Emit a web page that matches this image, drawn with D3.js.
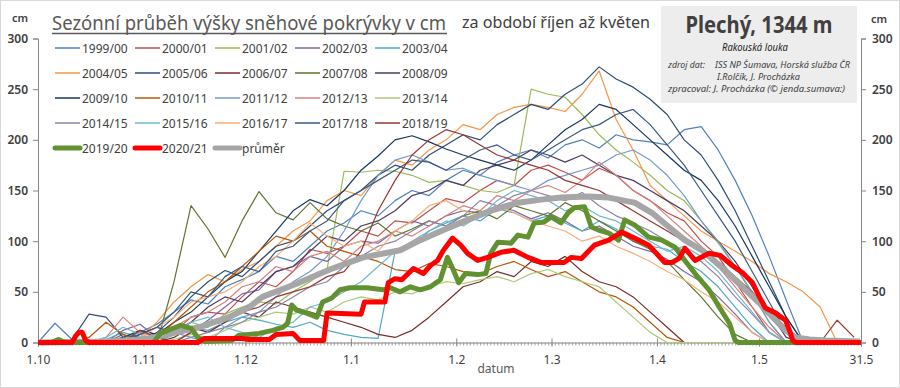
<!DOCTYPE html>
<html>
<head>
<meta charset="utf-8">
<script src="https://cdn.jsdelivr.net/npm/d3@7"></script>
<style>
  body { margin: 0; background: #fff; }
  text { font-family: "Noto Sans", "Open Sans", sans-serif; }
</style>
</head>
<body>
<script>
// snow depth in cm, one reading every 5 days from 1.10
const step = 5;
const seasons = ['1999/00','2000/01','2001/02','2002/03','2003/04','2004/05','2005/06','2006/07','2007/08','2008/09',
                 '2009/10','2010/11','2011/12','2012/13','2013/14','2014/15','2015/16','2016/17','2017/18','2018/19'];

const s9900 = [0,19,3,0,0,5,10,18,30,42, 38,55,62,70,85,80,95,110,118,130, 125,140,150,145,160,170,165,178,185,190, 182,195,200,192,205,200,198,195,210,213, 190,160,125,85,42,0,0,0,0];
const s0001 = [0,0,0,0,0,8,3,0,10,25, 30,28,45,60,55,70,92,88,95,110, 105,120,118,130,142,138,150,160,155,170, 175,168,160,172,165,150,140,128,120,100, 85,60,35,10,0,0,0,0,0];
const s0102 = [0,0,0,2,0,0,0,5,12,20, 15,28,35,40,38,50,60,72,169,168, 170,169,165,158,160,155,150,148,155,250, 245,242,225,205,190,178,165,150,140,120, 98,75,48,20,0,0,0,0,0];
const s0203 = [0,0,0,0,0,12,18,5,0,10, 22,35,48,52,70,75,85,80,95,100, 98,110,120,115,125,130,128,135,130,122, 128,120,110,115,105,95,90,82,70,60, 45,28,10,0,0,0,0,0,0];
const s0304 = [0,0,0,0,3,10,5,0,8,15, 12,20,25,22,18,15,20,12,8,5, 4,90,95,110,118,125,120,132,128,120, 125,118,110,120,112,100,95,92,80,70, 55,35,15,0,0,0,0,0,0];
const s0405 = [0,0,0,0,0,0,5,20,40,55, 67,60,72,80,95,110,120,140,150,145, 165,180,175,190,200,215,210,225,232,235, 232,228,245,268,220,190,155,140,125,110, 100,90,80,68,60,50,35,0,0];
const s0506 = [0,0,3,28,25,5,0,10,25,45, 60,71,65,80,95,100,115,130,140,150, 165,175,170,185,195,205,200,215,225,235, 230,245,255,272,260,252,240,225,200,185, 160,130,95,60,25,0,0,0,0];
const s0607 = [0,0,0,0,0,0,0,0,5,15, 10,20,30,25,40,35,30,25,20,15, 8,5,12,25,40,55,60,70,65,80, 75,85,70,60,55,45,30,15,0,0, 0,0,0,0,0,0,0,0,0];
const s0708 = [0,0,0,0,0,0,0,0,60,135, 112,84,120,149,128,121,138,122,115,110, 118,105,112,120,115,125,130,122,135,130, 125,138,130,120,110,100,92,80,62,45, 25,8,0,0,0,0,0,0,0];
const s0809 = [0,0,0,0,0,0,8,15,10,20, 35,45,40,55,70,75,90,105,100,115, 120,130,145,150,160,155,170,175,180,190, 185,178,185,175,165,160,150,140,130,115, 100,80,55,30,5,0,0,0,0];
const s0910 = [0,0,0,0,0,5,12,8,20,30, 45,60,70,90,110,130,141,135,150,170, 184,200,204,198,191,185,180,175,170,180, 195,210,220,235,230,215,200,185,170,160, 140,115,85,55,25,0,0,0,0];
const s1011 = [0,0,0,5,20,8,0,5,20,35, 50,60,75,90,105,100,110,95,90,85, 80,72,70,78,75,70,68,75,80,72, 65,70,60,50,45,35,20,5,0,0, 0,0,0,0,0,0,0,0,0];
const s1112 = [0,0,0,0,0,0,0,5,10,5, 0,15,25,30,45,60,70,85,110,140, 165,180,185,178,170,172,165,160,155,150, 160,165,170,175,185,190,180,165,145,120, 100,75,50,20,0,0,0,0,0];
const s1213 = [0,0,0,0,5,25,10,5,15,25, 30,40,55,60,75,70,85,90,80,95, 100,110,105,115,125,135,130,145,140,150, 155,148,160,178,165,150,140,125,110,95, 75,55,35,15,0,0,0,0,0];
const s1314 = [0,0,0,0,0,0,0,0,3,8, 5,12,20,25,30,28,35,30,40,45, 42,50,48,55,60,58,62,65,60,68, 72,65,60,55,40,25,10,0,0,0, 0,0,0,0,0,0,0,0,0];
const s1415 = [0,0,0,0,0,0,0,0,0,5, 10,15,20,30,35,45,55,60,75,85, 95,100,110,120,115,125,140,135,145,150, 145,140,148,135,125,118,110,100,90,80, 65,45,28,10,0,0,0,0,0];
const s1516 = [0,0,0,0,5,15,8,3,10,20, 25,15,10,5,15,20,35,40,50,60, 75,90,100,110,120,115,125,140,150,145, 140,130,135,125,120,110,100,90,95,85, 70,50,30,10,0,0,0,0,0];
const s1617 = [0,0,0,0,0,0,5,15,25,40, 45,50,60,75,85,100,118,105,95,100, 90,110,120,135,140,130,125,135,128,120, 115,110,100,105,95,88,80,70,62,50, 40,25,10,0,0,0,0,0,0];
const s1718 = [0,0,0,0,0,3,8,15,30,50, 45,65,75,70,90,95,110,120,140,150, 160,170,180,178,170,180,190,195,185,180, 190,200,210,215,225,230,215,195,175,150, 125,100,70,40,10,0,0,0,0];
const s1819 = [0,0,0,0,0,0,12,5,0,10, 20,25,30,35,45,50,55,65,70,90, 130,160,185,200,210,205,195,185,180,175, 170,160,155,150,140,130,120,110,100,90, 80,65,50,30,15,0,0,22,5];

const seasonValues = [s9900,s0001,s0102,s0203,s0304,s0405,s0506,s0607,s0708,s0809,
                      s0910,s1011,s1112,s1213,s1314,s1415,s1516,s1617,s1718,s1819];
const seasonColors = ['#4f81bd','#c0504d','#9bbb59','#8064a2','#4bacc6','#f79646','#2c4d75','#772c2a','#5f7530','#4d3b62',
                      '#17375e','#b65708','#729aca','#d7817f','#afc97a','#8e82a8','#6fb9cf','#f9b074','#3a5a80','#953735'];

// highlighted seasons as [day since 1.10, cm]
const s1920 = [[0,0],[4,0],[6,3],[8,0],[34,0],[36,9],[42,17],[45,14],[47,5],[49,1],[57,2],[59,7],[65,9],[69,12],[72,15],
  [73.4,19],[74.6,37],[76,32],[79,29],[82,25],[83.7,40],[86.4,44],[88.8,52],[91.7,54],[96.7,54],[101.5,52],[103.6,54],
  [106.5,50],[109.5,55],[112.4,52],[115.4,55],[118.3,62],[120.4,84],[122.2,71],[123.7,59],[125.7,68],[129.3,67],[131.7,68],
  [133.1,88],[135.2,99],[139.1,98],[141.1,106],[144.1,104],[145.9,118],[148.8,119],[150.9,124],[153.8,118],[155.9,128],
  [157.7,133],[160.7,134],[162.7,114],[164.8,111],[167.8,108],[170.7,101],[172.5,121],[175.4,116],[179.6,104],[183.4,101],
  [187.3,94],[190.2,81],[193.2,68],[197.3,52],[200.3,35],[203.3,19],[205,2],[206,0],[242,0]];
const s2021 = [[0,0],[10,0],[11,6],[12,10],[13,10],[14,2],[15,0],[47,0],[49,4],[60,4],[62,3],[68,3],[70,8],[75,9],[77,2],
  [84,2],[85,29],[95,28],[96,40],[102,40],[103,59],[105,63],[107,62],[110.4,73],[113.3,68],[115.4,76],[117.5,81],[119.2,91],
  [121.9,103],[124.3,96],[126.3,88],[129.3,81],[132.2,84],[136.1,89],[139.9,91],[144.1,84],[147.9,79],[154.7,79],[156.8,84],
  [159.8,83],[163.6,96],[167.8,101],[171.6,109],[175.4,103],[179.6,96],[184.3,79],[186.5,79],[188.5,83],[190.2,93],[193.2,81],
  [197.3,88],[200.6,86],[204.1,76],[207.1,69],[210.1,59],[212.1,45],[213.9,34],[216.9,29],[219.8,22],[221.3,9],[221.9,2],
  [223,0],[242,0]];
const prumer = [[0,0],[20,1],[30,3],[32.5,4],[47.3,15],[56.2,25],[62.1,35],[66,45],[76,58],[85.8,72],[95.6,84],[106.5,91],
  [112.4,101],[119.2,111],[126.3,121],[134,131],[141.1,138],[147.9,141],[153.8,143],[161.8,144],[167.8,143],[175.4,138],
  [180.5,128],[185.5,114],[190.2,101],[195.3,91],[202.1,71],[207.1,55],[212.1,39],[216.9,22],[219.8,12],[222.8,5],
  [226.9,3],[231.7,2],[241.7,1]];

const monthDays = [0,31,61,92,123,151,182,212,242];
const monthLabels = ['1.10','1.11','1.12','1.1','1.2','1.3','1.4','1.5','31.5'];
const yTicks = [0,50,100,150,200,250,300];

const w = 900, h = 388;
const svg = d3.select('body').append('svg')
  .attr('width', w).attr('height', h);

svg.append('rect')
  .attr('x', 0.5).attr('y', 0.5).attr('width', w - 1).attr('height', h - 1)
  .attr('fill', '#fff').attr('stroke', '#d9d9d9');

const x = d3.scaleLinear().domain([0, 242]).range([38, 861]);
const y = d3.scaleLinear().domain([0, 300]).range([342.5, 38.5]);

// axes
const xAxisMinor = d3.axisBottom(x).tickValues(d3.range(0, 243)).tickSize(3).tickFormat('');
const gMinor = svg.append('g').attr('transform', 'translate(0,342.5)').call(xAxisMinor);
gMinor.select('.domain').remove();
gMinor.selectAll('.tick line').attr('stroke', '#a6a6a6');

const xAxis = d3.axisBottom(x).tickValues(monthDays).tickFormat((d, i) => monthLabels[i]).tickSize(4).tickPadding(9);
const gx = svg.append('g').attr('transform', 'translate(0,342.5)').call(xAxis);
gx.select('.domain').attr('stroke', '#868686');
gx.selectAll('.tick line').attr('y1', -4).attr('stroke', '#868686');
gx.selectAll('text').attr('font-size', 12).attr('fill', '#404040');

const yLeft = d3.axisLeft(y).tickValues(yTicks).tickSize(5).tickPadding(5);
const gyl = svg.append('g').attr('transform', 'translate(38,0)').call(yLeft);
const yRight = d3.axisRight(y).tickValues(yTicks).tickSize(5).tickPadding(6);
const gyr = svg.append('g').attr('transform', 'translate(861,0)').call(yRight);
[gyl, gyr].forEach(g => {
  g.select('.domain').attr('stroke', '#868686');
  g.selectAll('.tick line').attr('stroke', '#868686');
  g.selectAll('text').attr('font-size', 12).attr('font-weight', 600).attr('fill', '#404040');
});
svg.append('text').attr('x', 20).attr('y', 22).attr('text-anchor', 'middle')
  .attr('font-size', 11).attr('font-weight', 600).attr('fill', '#404040').text('cm');
svg.append('text').attr('x', 879).attr('y', 23).attr('text-anchor', 'middle')
  .attr('font-size', 11).attr('font-weight', 600).attr('fill', '#404040').text('cm');
svg.append('text').attr('x', 496).attr('y', 373).attr('text-anchor', 'middle')
  .attr('font-size', 12).attr('fill', '#595959').text('datum');

// lines
const stepLine = d3.line().x((d, i) => x(i * step)).y(d => y(d));
const pairLine = d3.line().x(d => x(d[0])).y(d => y(d[1]));

svg.append('g').selectAll('path')
  .data(seasonValues)
  .enter()
  .append('path')
  .attr('d', d => stepLine(d))
  .attr('fill', 'none')
  .attr('stroke', (d, i) => seasonColors[i])
  .attr('stroke-width', 1.2)
  .attr('stroke-linejoin', 'round');

svg.append('path').attr('d', pairLine(prumer)).attr('fill', 'none')
  .attr('stroke', '#a6a6a6').attr('stroke-width', 6).attr('stroke-linejoin', 'round');
svg.append('path').attr('d', pairLine(s1920)).attr('fill', 'none')
  .attr('stroke', '#62912f').attr('stroke-width', 5).attr('stroke-linejoin', 'round');
svg.append('path').attr('d', pairLine(s2021)).attr('fill', 'none')
  .attr('stroke', '#ff0000').attr('stroke-width', 5).attr('stroke-linejoin', 'round');

// title
svg.append('text').attr('x', 52).attr('y', 30)
  .attr('font-size', 19).attr('fill', '#595959')
  .attr('textLength', 394).attr('lengthAdjust', 'spacingAndGlyphs')
  .text('Sezónní průběh výšky sněhové pokrývky v cm');
svg.append('line').attr('x1', 52).attr('x2', 447).attr('y1', 33.5).attr('y2', 33.5)
  .attr('stroke', '#595959').attr('stroke-width', 1.3);
svg.append('text').attr('x', 462).attr('y', 28)
  .attr('font-size', 16).attr('fill', '#404040')
  .attr('textLength', 188).attr('lengthAdjust', 'spacingAndGlyphs')
  .text('za období říjen až květen');

// legend
const legendItems = seasons.map((s, i) => ({ name: s, color: seasonColors[i], width: 1.5 }))
  .concat([{ name: '2019/20', color: '#62912f', width: 5 },
           { name: '2020/21', color: '#ff0000', width: 5 },
           { name: 'průměr', color: '#a6a6a6', width: 5 }]);
const lg = svg.append('g').selectAll('g')
  .data(legendItems)
  .enter()
  .append('g')
  .attr('transform', (d, i) => 'translate(' + (55 + (i % 5) * 80) + ',' + (48 + Math.floor(i / 5) * 25) + ')');
lg.append('line').attr('x1', 0).attr('x2', 25).attr('y1', 0).attr('y2', 0)
  .attr('stroke', d => d.color).attr('stroke-width', d => d.width)
  .attr('stroke-linecap', d => d.width > 2 ? 'round' : 'butt');
lg.append('text').attr('x', 27).attr('y', 4.5).attr('font-size', 12).attr('fill', '#404040')
  .text(d => d.name);

// station box
const box = svg.append('g');
box.append('rect').attr('x', 661).attr('y', 6).attr('width', 196).attr('height', 97).attr('fill', '#ededed');
box.append('text').attr('x', 759).attr('y', 33).attr('text-anchor', 'middle')
  .attr('font-size', 23).attr('font-weight', 'bold').attr('fill', '#404040')
  .attr('textLength', 147).attr('lengthAdjust', 'spacingAndGlyphs')
  .text('Plechý, 1344 m');
box.append('text').attr('x', 755).attr('y', 51).attr('text-anchor', 'middle')
  .attr('font-size', 10.5).attr('font-style', 'italic').attr('fill', '#262626')
  .attr('textLength', 66).attr('lengthAdjust', 'spacingAndGlyphs')
  .text('Rakouská louka');
const small = [
  { x: 668, y: 68, t: 'zdroj dat:', len: 37 },
  { x: 715, y: 68, t: 'ISS NP Šumava, Horská služba ČR', len: 135 },
  { x: 717, y: 80, t: 'I.Rolčík, J. Procházka', len: 83 },
  { x: 668, y: 92, t: 'zpracoval:  J. Procházka  (© jenda.sumava:)', len: 177 }
];
box.selectAll('.src').data(small).enter().append('text')
  .attr('x', d => d.x).attr('y', d => d.y)
  .attr('font-size', 8.5).attr('font-style', 'italic').attr('fill', '#404040')
  .attr('textLength', d => d.len).attr('lengthAdjust', 'spacingAndGlyphs')
  .text(d => d.t);
</script>
</body>
</html>
